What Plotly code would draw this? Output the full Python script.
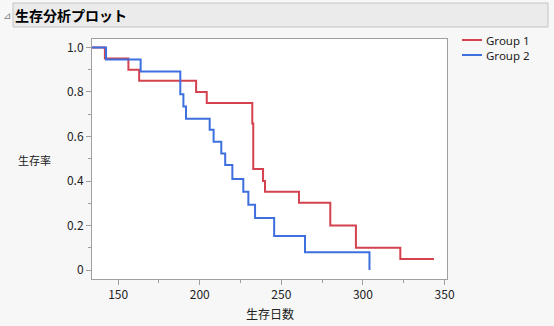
import plotly.graph_objects as go

# Data
g1_time = [0, 141.9, 156.3, 162.9, 197.8, 204.3, 232.2, 232.8, 238.8, 240.0, 260.8, 280.0, 295.7, 322.9, 343.5]
g1_surv = [1.0, 0.95, 0.90, 0.85, 0.80, 0.75, 0.658, 0.454, 0.40, 0.352, 0.303, 0.20, 0.10, 0.05, 0.05]
g2_time = [0, 142.6, 163.8, 188.1, 190.0, 191.6, 206.1, 208.5, 213.2, 215.6, 220.0, 226.7, 229.8, 233.9, 245.6, 264.5, 304.0]
g2_surv = [1.0, 0.946, 0.892, 0.790, 0.735, 0.680, 0.630, 0.577, 0.524, 0.472, 0.409, 0.352, 0.294, 0.234, 0.153, 0.080, 0.0]
series_names = ["Group 1", "Group 2"]
x_ticks = [150, 200, 250, 300, 350]
y_ticks = [0, 0.2, 0.4, 0.6, 0.8, 1.0]
y_ticktext = ["0", "0.2", "0.4", "0.6", "0.8", "1.0"]

W, H = 554, 326
L, R, T, B = 92, 107, 39, 47
pw, ph = W - L - R, H - T - B

def px_x(p):
    return (p - L) / pw

def px_y(p):
    return (H - B - p) / ph

font_main = "Noto Sans CJK JP, Noto Sans, sans-serif"
colors = ["#d4414f", "#3e6fdf"]

fig = go.Figure()
for name, t, s, c in zip(series_names, [g1_time, g2_time], [g1_surv, g2_surv], colors):
    fig.add_trace(go.Scatter(x=t, y=s, mode="lines", line_shape="hv",
                             line=dict(color=c, width=2), name=name, showlegend=False))

axis_common = dict(showgrid=False, zeroline=False, showline=True, linecolor="#a0a0a0",
                   linewidth=1, mirror=True, ticks="outside", ticklen=5, tickcolor="#a0a0a0",
                   tickfont=dict(family=font_main, size=12, color="#222222"))

fig.update_layout(
    width=W, height=H,
    margin=dict(l=L, r=R, t=T, b=B),
    paper_bgcolor="#f7f7f7", plot_bgcolor="#ffffff",
    xaxis=dict(range=[134, 351.5], tickvals=x_ticks,
               minor=dict(dtick=25, tick0=0, ticks="outside", ticklen=3, tickcolor="#a0a0a0"),
               **axis_common),
    yaxis=dict(range=[-0.04, 1.038], tickvals=y_ticks, ticktext=y_ticktext,
               minor=dict(dtick=0.1, tick0=0, ticks="outside", ticklen=3, tickcolor="#a0a0a0"),
               **axis_common),
    showlegend=False,
)

# Legend (drawn manually to match compact JMP style)
for i, (name, c) in enumerate(zip(series_names, colors)):
    yy = 40 + 15 * i
    fig.add_shape(type="line", xref="paper", yref="paper",
                  x0=px_x(462), x1=px_x(482), y0=px_y(yy), y1=px_y(yy),
                  line=dict(color=c, width=2))
    fig.add_annotation(text=name, xref="paper", yref="paper",
                       x=px_x(485), y=px_y(yy), xanchor="left", yanchor="middle",
                       showarrow=False, borderpad=0,
                       font=dict(family="Noto Sans, sans-serif", size=11.5, color="#222222"))

# Header bar
fig.add_shape(type="rect", xref="paper", yref="paper",
              x0=px_x(13), x1=px_x(548), y0=px_y(27), y1=px_y(3),
              fillcolor="#ebebeb", line=dict(color="#c4c4c4", width=1), layer="below")
fig.add_annotation(text="<b>生存分析プロット</b>", xref="paper", yref="paper",
                   x=px_x(13), y=px_y(15), xanchor="left", yanchor="middle",
                   showarrow=False, font=dict(family=font_main, size=14, color="#000000"))
fig.add_annotation(text="⊿", xref="paper", yref="paper",
                   x=px_x(7), y=px_y(16), xanchor="center", yanchor="middle",
                   showarrow=False, font=dict(family="DejaVu Sans", size=10, color="#808080"))
# Axis titles
fig.add_annotation(text="生存率", xref="paper", yref="paper",
                   x=px_x(34), y=px_y(160), xanchor="center", yanchor="middle",
                   showarrow=False, font=dict(family=font_main, size=11, color="#222222"))
fig.add_annotation(text="生存日数", xref="paper", yref="paper",
                   x=0.5, y=px_y(313), xanchor="center", yanchor="middle",
                   showarrow=False, font=dict(family=font_main, size=12, color="#222222"))

fig.write_html("out.html")
